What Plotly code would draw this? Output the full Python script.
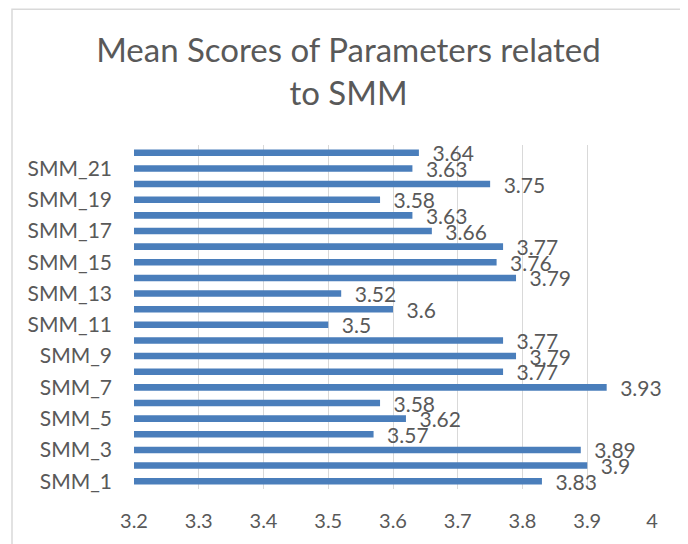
import plotly.graph_objects as go

categories = [f"SMM_{i}" for i in range(1, 23)]
values = [3.83, 3.9, 3.89, 3.57, 3.62, 3.58, 3.93, 3.77, 3.79, 3.77, 3.5,
          3.6, 3.52, 3.79, 3.76, 3.77, 3.66, 3.63, 3.58, 3.75, 3.63, 3.64]
y_tick_labels = [f"SMM_{i}" for i in range(1, 23, 2)]
x_ticks = [3.2, 3.3, 3.4, 3.5, 3.6, 3.7, 3.8, 3.9, 4.0]
x_tick_text = ["3.2", "3.3", "3.4", "3.5", "3.6", "3.7", "3.8", "3.9", "4"]

FONT = "Lato, 'Open Sans', sans-serif"
GREY = "#595959"

W, H = 680, 536
L, R, T, B = 126, 36, 137, 53
PW, PH = W - L - R, H - T - B

fig = go.Figure(go.Bar(
    x=values, y=categories, orientation="h",
    marker=dict(color="#4a7ebb", line=dict(width=0)),
    text=[f"\u2002{v:g}" for v in values],
    textposition="outside", constraintext="none", cliponaxis=False,
    textfont=dict(family=FONT, size=21, color=GREY),
))

fig.update_layout(
    width=W, height=H,
    margin=dict(l=L, r=R, t=T, b=B),
    paper_bgcolor="white", plot_bgcolor="white",
    bargap=0.58,
    showlegend=False,
    title=dict(text="Mean Scores of Parameters related<br>to SMM",
               x=340.5 / W, xanchor="center", y=1 - 54 / H, yanchor="top",
               font=dict(family=FONT, size=33, color=GREY)),
    xaxis=dict(range=[3.2, 4.0], tickvals=x_ticks, ticktext=x_tick_text,
               showgrid=True, gridcolor="#d9d9d9", gridwidth=1,
               zeroline=False, showline=False, ticks="",
               ticklabelstandoff=18,
               tickfont=dict(family=FONT, size=20, color=GREY)),
    yaxis=dict(categoryorder="array", categoryarray=categories,
               tickvals=y_tick_labels, ticktext=y_tick_labels,
               showgrid=False, zeroline=False, showline=False, ticks="",
               ticklabelstandoff=21,
               tickfont=dict(family=FONT, size=21, color=GREY)),
    shapes=[dict(type="rect", xref="paper", yref="paper",
                 x0=(4 - L) / PW, x1=(677 - L) / PW,
                 y0=(PH - (H + 20 - T)) / PH, y1=(PH + T - 0.5) / PH,
                 line=dict(color="#d9d9d9", width=1.5), layer="below")],
)

fig.write_html("out.html")
